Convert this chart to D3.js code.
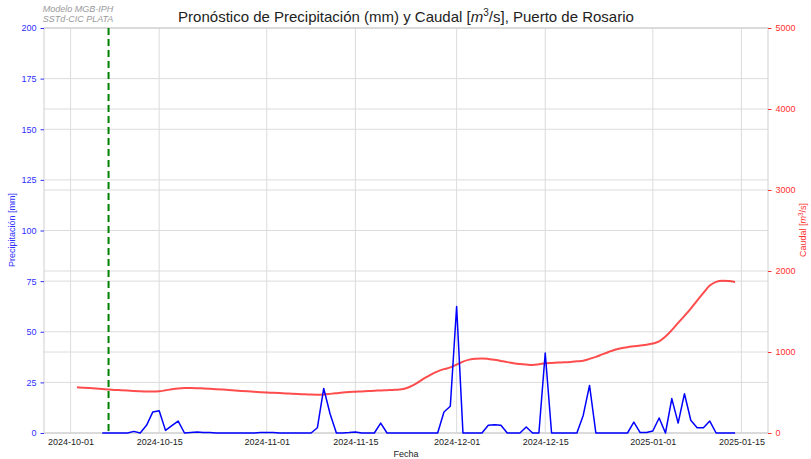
<!DOCTYPE html>
<html>
<head>
<meta charset="utf-8">
<script src="https://cdn.jsdelivr.net/npm/d3@7/dist/d3.min.js"></script>
<style>
  body { margin: 0; background: #fff; }
  svg { font-family: "Liberation Sans", Arial, sans-serif; }
</style>
</head>
<body>
<svg id="chart" width="811" height="459"></svg>
<script>
// precipitacion diaria [mm], desde 2024-10-06
var precipStart = "2024-10-06"
var precip = [
  0, 0, 0, 0, 0, 0.8, 0, 3.8, 10.4, 11, 1.3, 3.6, 5.9, 0, 0.3, 0.5, 0.3, 0.2,
  0, 0, 0, 0, 0, 0, 0, 0.2, 0.3, 0.2, 0, 0, 0, 0, 0, 0, 2.6, 22, 9.5, 0, 0,
  0.2, 0.5, 0, 0, 0, 4.9, 0, 0, 0, 0, 0, 0, 0, 0, 0, 10.4, 13.2, 62.5, 0, 0,
  0, 0, 3.8, 4.1, 3.8, 0, 0, 0, 3, 0, 0, 39.5, 0, 0, 0, 0, 0, 8.7, 23.5, 0,
  0, 0, 0, 0, 0, 5.4, 0.2, 0.2, 1, 7.4, 0, 17, 4.9, 19.4, 6.3, 2.6, 2.6, 5.9,
  0, 0, 0, 0
]

// caudal diario [m3/s], desde 2024-10-02
var caudalStart = "2024-10-02"
var caudal = [
  564, 560, 555, 549, 543, 537, 532, 528, 524, 519, 515, 512, 511, 515, 527,
  540, 550, 555, 556, 554, 550, 546, 541, 536, 530, 524, 519, 514, 508, 503,
  499, 496, 493, 489, 485, 481, 477, 474, 473, 476, 483, 491, 499, 505, 509,
  513, 517, 521, 526, 529, 532, 537, 552, 585, 630, 680, 725, 760, 788, 810,
  845, 882, 906, 918, 921, 915, 905, 890, 875, 862, 852, 845, 840, 848, 860,
  865, 869, 873, 878, 885, 892, 915, 940, 970, 1000, 1028, 1047, 1060, 1070,
  1080, 1090, 1105, 1130, 1190, 1270, 1360, 1445, 1535, 1635, 1730, 1820,
  1866, 1880, 1876, 1864
]

var forecastDate = "2024-10-07"
var dateTicks = ["2024-10-01", "2024-10-15", "2024-11-01", "2024-11-15",
                 "2024-12-01", "2024-12-15", "2025-01-01", "2025-01-15"]
var precipTicks = [0, 25, 50, 75, 100, 125, 150, 175, 200]
var caudalTicks = [0, 1000, 2000, 3000, 4000, 5000]

var parse = d3.utcParse("%Y-%m-%d")
var fmt = d3.utcFormat("%Y-%m-%d")

var precipData = precip.map((v, i) => ({date: d3.utcDay.offset(parse(precipStart), i), value: v}))
var caudalData = caudal.map((v, i) => ({date: d3.utcDay.offset(parse(caudalStart), i), value: v}))

var svg = d3.select("#chart")
var mLeft = 44, mRight = 768, mTop = 28, mBottom = 433

// matplotlib style 5% margins on the time axis
var first = caudalData[0].date, last = caudalData[caudalData.length - 1].date
var span = last - first
var x = d3.scaleUtc()
    .domain([new Date(+first - span * 0.05), new Date(+last + span * 0.05)])
    .range([mLeft, mRight])
var yP = d3.scaleLinear().domain([0, 200]).range([mBottom, mTop])
var yQ = d3.scaleLinear().domain([0, 5000]).range([mBottom, mTop])

var gridColor = "#dcdcdc"

// grid lines
var grid = svg.append("g")
grid.selectAll(".vx").data(dateTicks).enter().append("line")
    .attr("x1", d => x(parse(d))).attr("x2", d => x(parse(d)))
    .attr("y1", mTop).attr("y2", mBottom)
    .attr("stroke", gridColor).attr("stroke-width", 1)
grid.selectAll(".hp").data(precipTicks).enter().append("line")
    .attr("x1", mLeft).attr("x2", mRight)
    .attr("y1", d => yP(d)).attr("y2", d => yP(d))
    .attr("stroke", gridColor).attr("stroke-width", 1)
grid.selectAll(".hq").data(caudalTicks).enter().append("line")
    .attr("x1", mLeft).attr("x2", mRight)
    .attr("y1", d => yQ(d)).attr("y2", d => yQ(d))
    .attr("stroke", gridColor).attr("stroke-width", 1)

// frame
svg.append("rect")
    .attr("x", mLeft).attr("y", mTop)
    .attr("width", mRight - mLeft).attr("height", mBottom - mTop)
    .attr("fill", "none").attr("stroke", "#d0d0d0").attr("stroke-width", 1)

// axes
var xAxis = svg.append("g")
    .attr("transform", "translate(0," + mBottom + ")")
    .call(d3.axisBottom(x).tickValues(dateTicks.map(parse)).tickFormat(fmt).tickSize(0).tickPadding(6))
xAxis.select(".domain").remove()
xAxis.selectAll("text").attr("font-size", 9).attr("fill", "#222").attr("font-family", null)

var yLeft = svg.append("g")
    .attr("transform", "translate(" + mLeft + ",0)")
    .call(d3.axisLeft(yP).tickValues(precipTicks).tickSize(3.5).tickPadding(4))
yLeft.select(".domain").remove()
yLeft.selectAll("line").attr("stroke", "#3030ff")
yLeft.selectAll("text").attr("font-size", 9).attr("fill", "#3030ff").attr("font-family", null)

var yRight = svg.append("g")
    .attr("transform", "translate(" + mRight + ",0)")
    .call(d3.axisRight(yQ).tickValues(caudalTicks).tickFormat(d3.format("d")).tickSize(3.5).tickPadding(4))
yRight.select(".domain").remove()
yRight.selectAll("line").attr("stroke", "#ff3030")
yRight.selectAll("text").attr("font-size", 9).attr("fill", "#ff3030").attr("font-family", null)

// series
svg.append("path")
    .datum(caudalData)
    .attr("fill", "none")
    .attr("stroke", "#ff0000")
    .attr("stroke-opacity", 0.7)
    .attr("stroke-width", 2)
    .attr("d", d3.line().x(d => x(d.date)).y(d => yQ(d.value)).curve(d3.curveMonotoneX))

svg.append("path")
    .datum(precipData)
    .attr("fill", "none")
    .attr("stroke", "#0000ff")
    .attr("stroke-width", 1.5)
    .attr("stroke-linejoin", "round")
    .attr("d", d3.line().x(d => x(d.date)).y(d => yP(d.value)))

// fecha del pronostico
svg.append("line")
    .attr("x1", x(parse(forecastDate))).attr("x2", x(parse(forecastDate)))
    .attr("y1", mTop).attr("y2", mBottom)
    .attr("stroke", "#008000").attr("stroke-width", 2)
    .attr("stroke-dasharray", "7,4")

// texts
var title = svg.append("text")
    .attr("x", 406).attr("y", 22)
    .attr("text-anchor", "middle")
    .attr("font-size", 15).attr("fill", "#222")
title.append("tspan").text("Pronóstico de Precipitación (mm) y Caudal [")
title.append("tspan").attr("font-style", "italic").text("m")
title.append("tspan").attr("font-size", 10).attr("dy", -6).text("3")
title.append("tspan").attr("dy", 6).text("/s], Puerto de Rosario")

svg.append("text")
    .attr("x", 78).attr("y", 12)
    .attr("text-anchor", "middle").attr("font-size", 9)
    .attr("font-style", "italic").attr("fill", "#999")
    .text("Modelo MGB-IPH")
svg.append("text")
    .attr("x", 78).attr("y", 22)
    .attr("text-anchor", "middle").attr("font-size", 9)
    .attr("font-style", "italic").attr("fill", "#999")
    .text("SSTd-CIC PLATA")

svg.append("text")
    .attr("x", 406).attr("y", 457)
    .attr("text-anchor", "middle").attr("font-size", 9).attr("fill", "#222")
    .text("Fecha")

svg.append("text")
    .attr("transform", "translate(15,230) rotate(-90)")
    .attr("text-anchor", "middle").attr("font-size", 9).attr("fill", "#3030ff")
    .text("Precipitación [mm]")

var yl = svg.append("text")
    .attr("transform", "translate(806,230) rotate(-90)")
    .attr("text-anchor", "middle").attr("font-size", 9).attr("fill", "#ff3030")
yl.append("tspan").text("Caudal [")
yl.append("tspan").attr("font-style", "italic").text("m")
yl.append("tspan").attr("font-size", 6.5).attr("dy", -3.5).text("3")
yl.append("tspan").attr("dy", 3.5).text("/s]")
</script>
</body>
</html>
